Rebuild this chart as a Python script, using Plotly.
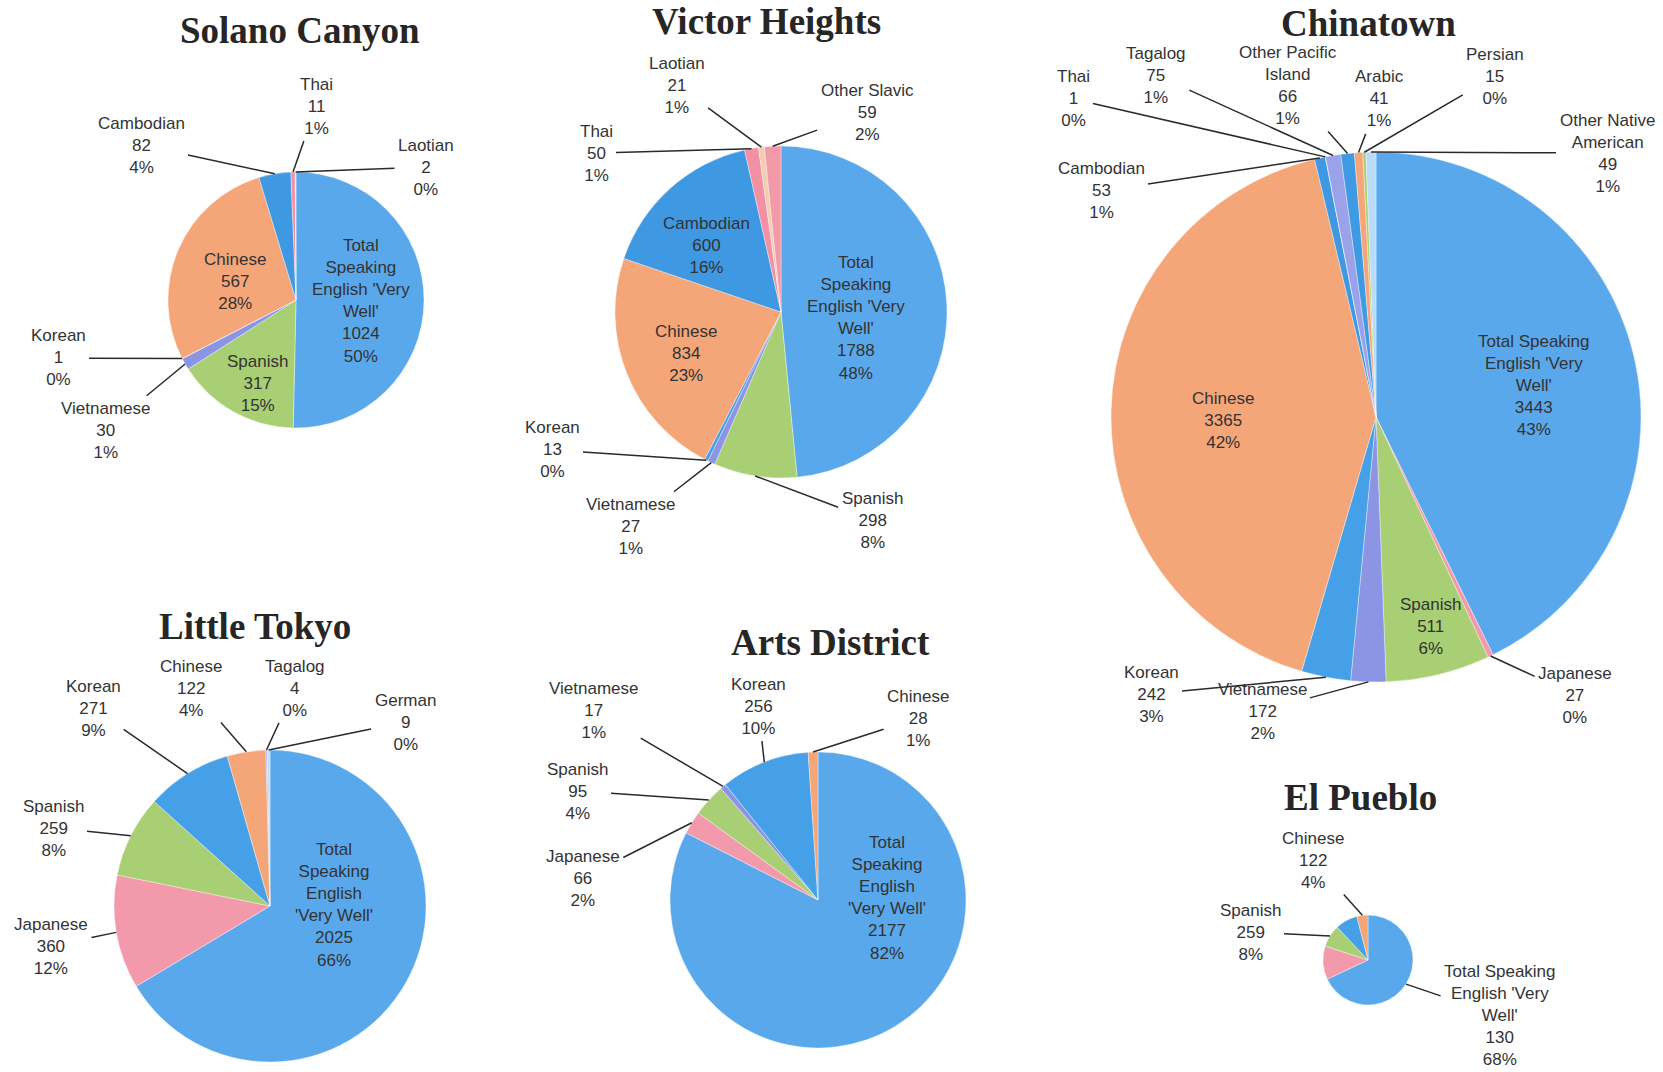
import numpy as np
import plotly.graph_objects as go

W, H = 1663, 1072
TOTAL = "Total Speaking English 'Very Well'"

# ---- data (slices in clockwise order from 12 o'clock)
solano_names = [TOTAL, "Spanish", "Vietnamese", "Korean", "Chinese", "Cambodian", "Thai", "Laotian"]
solano_values = [1024, 317, 30, 1, 567, 82, 11, 2]
solano_pcts = [50, 15, 1, 0, 28, 4, 1, 0]

victor_names = [TOTAL, "Spanish", "Vietnamese", "Korean", "Chinese", "Cambodian", "Thai", "Laotian", "Other Slavic"]
victor_values = [1788, 298, 27, 13, 834, 600, 50, 21, 59]
victor_pcts = [48, 8, 1, 0, 23, 16, 1, 1, 2]

chinatown_names = [TOTAL, "Japanese", "Spanish", "Vietnamese", "Korean", "Chinese", "Cambodian", "Thai",
                   "Tagalog", "Other Pacific Island", "Arabic", "Persian", "Other Native American"]
chinatown_values = [3443, 27, 511, 172, 242, 3365, 53, 1, 75, 66, 41, 15, 49]
chinatown_pcts = [43, 0, 6, 2, 3, 42, 1, 0, 1, 1, 1, 0, 1]

tokyo_names = [TOTAL, "Japanese", "Spanish", "Korean", "Chinese", "Tagalog", "German"]
tokyo_values = [2025, 360, 259, 271, 122, 4, 9]
tokyo_pcts = [66, 12, 8, 9, 4, 0, 0]

arts_names = [TOTAL, "Japanese", "Spanish", "Vietnamese", "Korean", "Chinese"]
arts_values = [2177, 66, 95, 17, 256, 28]
arts_pcts = [82, 2, 4, 1, 10, 1]

# El Pueblo: slice shares as drawn, printed numbers as labelled
pueblo_names = [TOTAL, "Japanese", "Spanish", "Korean", "Chinese"]
pueblo_shares = [68, 12, 8, 8, 4]
pueblo_printed = [130, None, 259, None, 122]
pueblo_pcts = [68, None, 8, None, 4]

colors = {
    TOTAL: "#5aa8ec",
    "Spanish": "#a9cf74",
    "Vietnamese": "#8c95e3",
    "Korean": "#46a0e8",
    "Chinese": "#f5a679",
    "Cambodian": "#3f98e2",
    "Thai": "#f291a3",
    "Laotian": "#f3cdb0",
    "Other Slavic": "#f29aa8",
    "Japanese": "#f29aab",
    "Tagalog": "#9aa2ea",
    "German": "#c5dcf4",
    "Other Pacific Island": "#3f9ae4",
    "Arabic": "#f5a679",
    "Persian": "#a9cf74",
    "Other Native American": "#b9dbf6",
}

wraps = {
    "Other Pacific Island": "Other Pacific<br>Island",
    "Other Native American": "Other Native<br>American",
}

charts = [
    dict(title="Solano Canyon", names=solano_names, values=solano_values, printed=solano_values,
         pcts=solano_pcts, cx=296, cy=300, r=128, tpos=(300, 30),
         total_wrap="Total<br>Speaking<br>English 'Very<br>Well'",
         inside={TOTAL: (361, 301), "Chinese": (235, 281), "Spanish": (257, 383)},
         outside={"Cambodian": (141, 145), "Thai": (316, 106), "Laotian": (426, 167),
                  "Korean": (58, 358), "Vietnamese": (105, 430)}),
    dict(title="Victor Heights", names=victor_names, values=victor_values, printed=victor_values,
         pcts=victor_pcts, cx=781, cy=312, r=166, tpos=(766, 21),
         total_wrap="Total<br>Speaking<br>English 'Very<br>Well'",
         inside={TOTAL: (856, 318), "Cambodian": (706, 246), "Chinese": (686, 353)},
         outside={"Laotian": (677, 85), "Other Slavic": (867, 112), "Thai": (596, 153),
                  "Korean": (552, 450), "Vietnamese": (630, 526), "Spanish": (872, 520)}),
    dict(title="Chinatown", names=chinatown_names, values=chinatown_values, printed=chinatown_values,
         pcts=chinatown_pcts, cx=1376, cy=417, r=265, tpos=(1368, 23),
         total_wrap="Total Speaking<br>English 'Very<br>Well'",
         inside={TOTAL: (1534, 386), "Chinese": (1223, 420), "Spanish": (1430, 626)},
         outside={"Thai": (1073, 99), "Tagalog": (1156, 75), "Other Pacific Island": (1288, 86),
                  "Arabic": (1379, 99), "Persian": (1495, 76), "Other Native American": (1607, 153),
                  "Cambodian": (1101, 191), "Korean": (1151, 694), "Vietnamese": (1262, 711),
                  "Japanese": (1575, 695)}),
    dict(title="Little Tokyo", names=tokyo_names, values=tokyo_values, printed=tokyo_values,
         pcts=tokyo_pcts, cx=270, cy=906, r=156, tpos=(255, 626),
         total_wrap="Total<br>Speaking<br>English<br>'Very Well'",
         inside={TOTAL: (334, 905)},
         outside={"Korean": (93, 708), "Chinese": (191, 688), "Tagalog": (295, 688),
                  "German": (405, 722), "Spanish": (53, 828), "Japanese": (51, 946)}),
    dict(title="Arts District", names=arts_names, values=arts_values, printed=arts_values,
         pcts=arts_pcts, cx=818, cy=900, r=148, tpos=(830, 642),
         total_wrap="Total<br>Speaking<br>English<br>'Very Well'",
         inside={TOTAL: (887, 898)},
         outside={"Vietnamese": (593, 710), "Korean": (758, 706), "Chinese": (918, 718),
                  "Spanish": (577, 791), "Japanese": (583, 878)}),
    dict(title="El Pueblo", names=pueblo_names, values=pueblo_shares, printed=pueblo_printed,
         pcts=pueblo_pcts, cx=1368, cy=960, r=45, tpos=(1360, 797),
         total_wrap="Total Speaking<br>English 'Very<br>Well'",
         inside={},
         outside={"Chinese": (1313, 860), "Spanish": (1250, 932), TOTAL: (1500, 1016)}),
]

LABEL_FONT = dict(family="Liberation Sans, Arial", size=17, color="#333333")
TITLE_FONT = dict(family="Liberation Serif, Times New Roman", size=37, color="#262626")


def px(sx):
    return sx / W


def py(sy):
    return 1 - sy / H


fig = go.Figure()
annotations = []

for ch in charts:
    cx, cy, r = ch["cx"], ch["cy"], ch["r"]
    fig.add_trace(go.Pie(
        labels=ch["names"], values=ch["values"], sort=False, direction="clockwise", rotation=0,
        textinfo="none", showlegend=False,
        marker=dict(colors=[colors[n] for n in ch["names"]], line=dict(color="rgba(255,255,255,0.6)", width=0.6)),
        domain=dict(x=[px(cx - r), px(cx + r)], y=[py(cy + r), py(cy - r)]),
    ))

    total = sum(ch["values"])

    def label(name):
        i = ch["names"].index(name)
        head = ch["total_wrap"] if name == TOTAL else wraps.get(name, name)
        return f"{head}<br>{ch['printed'][i]}<br>{ch['pcts'][i]}%"

    for name, (lx, ly) in ch["inside"].items():
        annotations.append(dict(x=px(lx), y=py(ly), xref="paper", yref="paper", text=label(name),
                                xanchor="center", yanchor="middle",
                                showarrow=False, font=LABEL_FONT, align="center"))

    for name, (lx, ly) in ch["outside"].items():
        i = ch["names"].index(name)
        mid = (sum(ch["values"][:i]) + ch["values"][i] / 2) / total * 2 * np.pi
        tx = cx + r * np.sin(mid)
        ty = cy - r * np.cos(mid)
        annotations.append(dict(x=px(tx), y=py(ty), xref="paper", yref="paper",
                                ax=lx - tx, ay=ly - ty, axref="pixel", ayref="pixel",
                                text=label(name), showarrow=True, arrowhead=0, arrowwidth=1.5,
                                arrowcolor="#2a2a2a", standoff=0, startstandoff=2,
                                font=LABEL_FONT, align="center"))

    sx, sy = ch["tpos"]
    annotations.append(dict(x=px(sx), y=py(sy), xref="paper", yref="paper",
                            xanchor="center", yanchor="middle",
                            text=f"<b>{ch['title']}</b>", showarrow=False, font=TITLE_FONT))

fig.update_layout(
    width=W, height=H,
    margin=dict(l=0, r=0, t=0, b=0),
    paper_bgcolor="white", plot_bgcolor="white",
    annotations=annotations,
)
# drop the page's default body margin so the figure fills the window
fig.write_html("out.html", config={"displayModeBar": False},
               post_script="document.body.style.margin='0';document.body.style.overflow='hidden';")
